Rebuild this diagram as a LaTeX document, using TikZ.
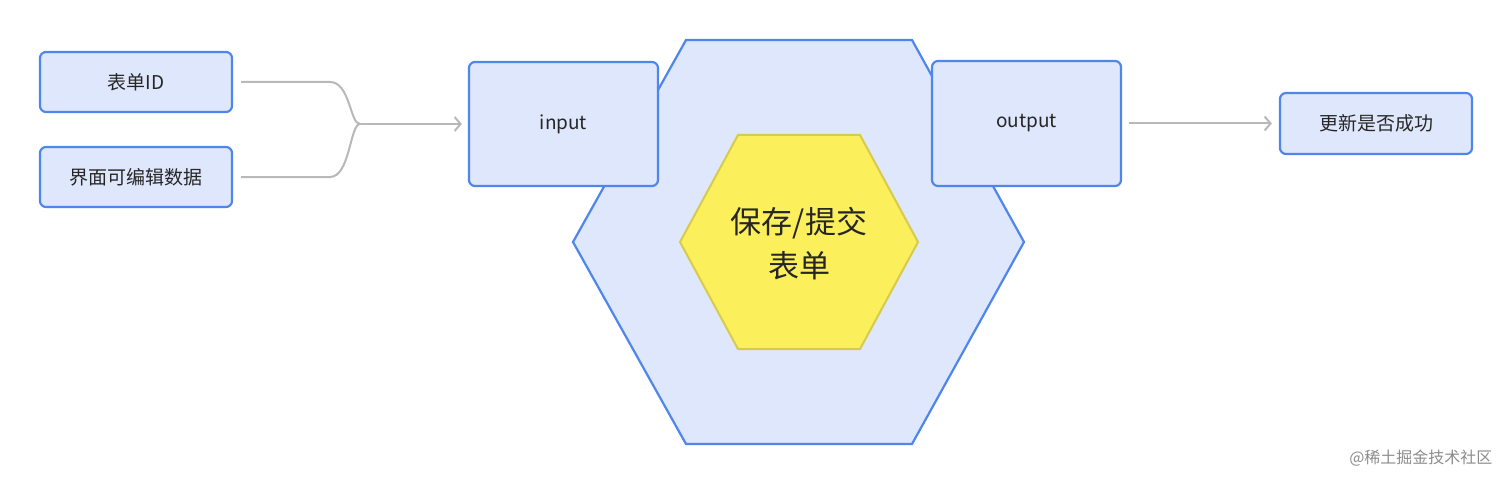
\documentclass[tikz,border=0pt]{standalone}
\usepackage{fontspec}
\setmainfont{Noto Sans CJK SC}
\usetikzlibrary{arrows.meta}
\definecolor{bb}{HTML}{4F86EC}
\definecolor{bf}{HTML}{DFE7FC}
\definecolor{yf}{HTML}{FCEF5C}
\definecolor{yb}{HTML}{D6CB4A}
\definecolor{gl}{HTML}{B8B8B8}
\tikzset{
 box/.style={draw=bb,fill=bf,line width=2.2pt,rounded corners=6pt,font=\fontsize{19}{22}\selectfont,text=black!85},
 conn/.style={draw=gl,line width=2pt,-{Straight Barb[length=6pt,width=14pt]}}
}
\begin{document}
\begin{tikzpicture}[x=1pt,y=-1pt]
\useasboundingbox (0,0) rectangle (1512,484);
\draw[bb,fill=bf,line width=2.2pt] (686,40)--(912,40)--(1024,242)--(912,444)--(686,444)--(573,242)--cycle;
\draw[yb,fill=yf,line width=2pt] (738,135)--(860,135)--(918,242)--(860,349)--(738,349)--(680,242)--cycle;
\node[align=center,font=\fontsize{31}{44}\selectfont,text=black!85] (core) at (799,244) {保存/提交\\表单};
\node[box,minimum width=192pt,minimum height=60pt] (id) at (136,82) {表单ID};
\node[box,minimum width=192pt,minimum height=60pt] (ui) at (136,177) {界面可编辑数据};
\node[box,minimum width=189pt,minimum height=124pt] (in) at (563.5,124) {input};
\node[box,minimum width=189pt,minimum height=125pt] (out) at (1026.5,123.5) {output};
\node[box,minimum width=192pt,minimum height=61pt] (res) at (1376,123.5) {更新是否成功};
\coordinate (m) at (360,124);
\draw[gl,line width=2pt] ([xshift=8pt]id.east) -- (330,82) .. controls (350,82) and (350,124) .. (m);
\draw[gl,line width=2pt] ([xshift=8pt]ui.east) -- (330,177) .. controls (350,177) and (350,124) .. (m);
\draw[conn] (m) -- ([xshift=-6pt]in.west);
\draw[conn] ([xshift=7pt]out.east) -- ([xshift=-7pt]res.west);
\node[anchor=east,font=\fontsize{16}{18}\selectfont,text=black!45] (wm) at (1496,458) {@稀土掘金技术社区};
\end{tikzpicture}
\end{document}
